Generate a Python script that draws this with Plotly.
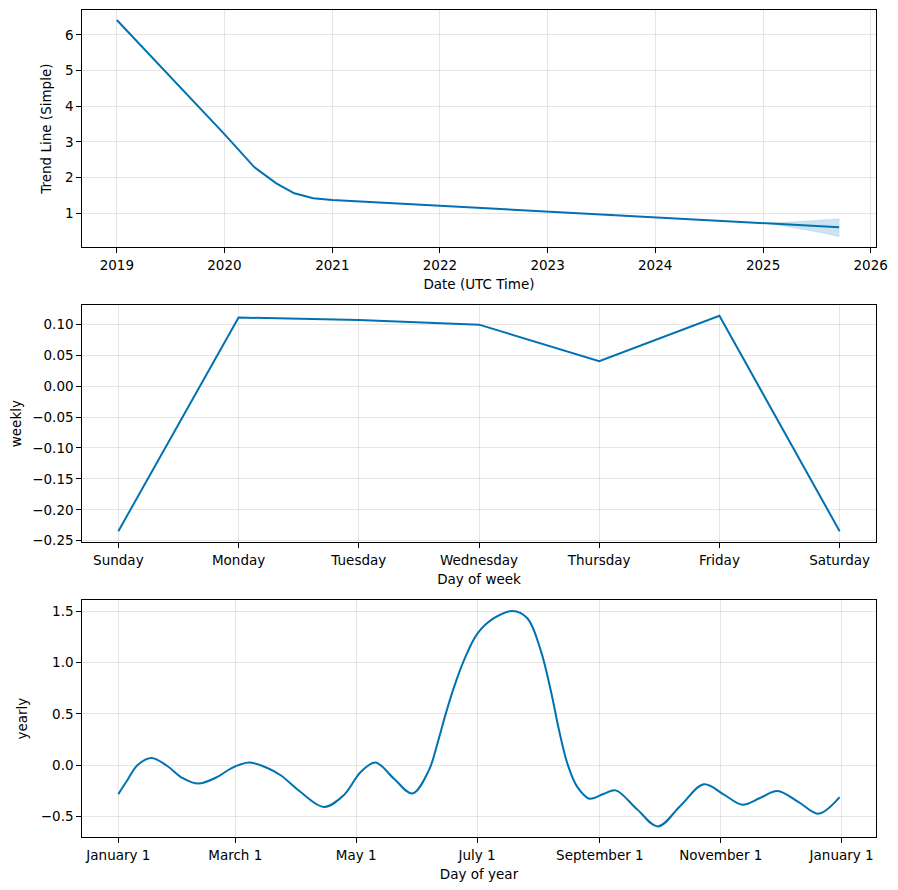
import plotly.graph_objects as go

# ---------------- data ----------------
trend_dates = ["2019-01-01", "2020-01-01", "2020-04-12", "2020-06-25", "2020-08-25",
               "2020-10-28", "2021-01-01", "2022-01-01", "2023-01-01", "2024-01-01",
               "2025-01-01", "2025-09-16"]
trend_values = [6.42, 3.22, 2.29, 1.84, 1.56, 1.42, 1.37, 1.21, 1.05, 0.89, 0.73, 0.61]

band_dates = ["2025-01-10", "2025-03-01", "2025-05-01", "2025-07-15", "2025-09-16"]
band_upper = [0.725, 0.74, 0.77, 0.81, 0.85]
band_lower = [0.725, 0.65, 0.57, 0.46, 0.345]

weekdays = ["Sunday", "Monday", "Tuesday", "Wednesday", "Thursday", "Friday", "Saturday"]
weekly_values = [-0.2346, 0.111, 0.107, 0.0995, 0.0405, 0.1138, -0.2346]

yearly_days = [0, 4.5, 9.6, 16.7, 24.7, 32.3, 40.2, 50.0, 56.7, 65.9, 75.2, 81.9,
               92.0, 103.8, 113.8, 122.3, 129.8, 139.1, 148.4, 156.7, 161.0, 165.2,
               169.4, 174.4, 181.2, 189.5, 198.8, 206.4, 213.1, 218.2, 222.4, 226.6,
               231.6, 237.8, 245.1, 251.0, 261.9, 272.3, 283.8, 295.5, 305.6, 314.9,
               324.1, 332.6, 343.5, 353.3, 364]
yearly_values = [-0.28, -0.146, 0.0, 0.071, -0.007, -0.123, -0.178, -0.113, -0.032, 0.026,
                 -0.026, -0.097, -0.26, -0.405, -0.29, -0.065, 0.026, -0.13, -0.275,
                 -0.049, 0.21, 0.50, 0.76, 1.02, 1.28, 1.43, 1.50, 1.43, 1.12, 0.73,
                 0.34, 0.017, -0.21, -0.325, -0.276, -0.244, -0.43, -0.594, -0.39,
                 -0.185, -0.285, -0.383, -0.315, -0.25, -0.36, -0.47, -0.309]

yearly_tick_days = [0, 59, 120, 181, 243, 304, 365]
yearly_tick_labels = ["January 1", "March 1", "May 1", "July 1", "September 1",
                      "November 1", "January 1"]

# ---------------- style ----------------
LINE = "#0072B2"
BAND = "rgba(0,114,178,0.2)"
GRID = "rgba(128,128,128,0.2)"
FONT = dict(family="DejaVu Sans", size=13.5, color="black")

OFF = 8  # page body margin
W, H = 898 - OFF, 890 - OFF
xdom = [(82.3 - OFF) / W, (875.7 - OFF) / W]


def ydom(top, bottom):
    return [1 - (bottom - OFF) / H, 1 - (top - OFF) / H]


fig = go.Figure()

fig.add_trace(go.Scatter(x=band_dates + band_dates[::-1], y=band_upper + band_lower[::-1],
                         fill="toself", fillcolor=BAND, line=dict(color=BAND, width=0.5),
                         mode="lines", hoverinfo="skip", showlegend=False,
                         xaxis="x", yaxis="y"))
fig.add_trace(go.Scatter(x=trend_dates, y=trend_values, mode="lines",
                         line=dict(color=LINE, width=2), showlegend=False,
                         xaxis="x", yaxis="y"))
fig.add_trace(go.Scatter(x=list(range(len(weekdays))), y=weekly_values, mode="lines",
                         line=dict(color=LINE, width=2), showlegend=False,
                         xaxis="x2", yaxis="y2"))
fig.add_trace(go.Scatter(x=yearly_days, y=yearly_values, mode="lines",
                         line=dict(color=LINE, width=2, shape="spline", smoothing=1.0),
                         showlegend=False, xaxis="x3", yaxis="y3"))

common = dict(showline=True, mirror=True, linecolor="black", linewidth=1,
              ticks="outside", ticklen=5, tickwidth=1, tickcolor="black",
              showgrid=True, gridcolor=GRID, gridwidth=1, zeroline=False,
              tickfont=FONT, automargin=False)

fig.update_layout(
    width=W, height=H,
    margin=dict(l=0, r=0, t=0, b=0),
    paper_bgcolor="white", plot_bgcolor="white",
    font=FONT,
    xaxis=dict(common, domain=xdom, anchor="y", type="date",
               range=["2018-09-06", "2026-01-18"], dtick="M12", tick0="2019-01-01",
               tickformat="%Y",
               title=dict(text="Date (UTC Time)", font=FONT, standoff=8)),
    yaxis=dict(common, domain=ydom(10, 247.3), anchor="x",
               range=[0.047, 6.70], tickvals=[1, 2, 3, 4, 5, 6],
               title=dict(text="Trend Line (Simple)", font=FONT, standoff=10)),
    xaxis2=dict(common, domain=xdom, anchor="y2", range=[-0.3, 6.3],
                tickvals=list(range(len(weekdays))), ticktext=weekdays,
                title=dict(text="Day of week", font=FONT, standoff=8)),
    yaxis2=dict(common, domain=ydom(305, 542.3), anchor="x2",
                range=[-0.2526, 0.1313], tickvals=[-0.25, -0.2, -0.15, -0.1, -0.05, 0, 0.05, 0.1],
                tickformat=".2f",
                title=dict(text="weekly", font=FONT, standoff=12)),
    xaxis3=dict(common, domain=xdom, anchor="y3", range=[-18.2, 382.2],
                tickvals=yearly_tick_days, ticktext=yearly_tick_labels,
                title=dict(text="Day of year", font=FONT, standoff=8)),
    yaxis3=dict(common, domain=ydom(600, 837.3), anchor="x3",
                range=[-0.70, 1.607], tickvals=[-0.5, 0, 0.5, 1.0, 1.5],
                tickformat=".1f",
                title=dict(text="yearly", font=FONT, standoff=10)),
)

fig.write_html("out.html")
